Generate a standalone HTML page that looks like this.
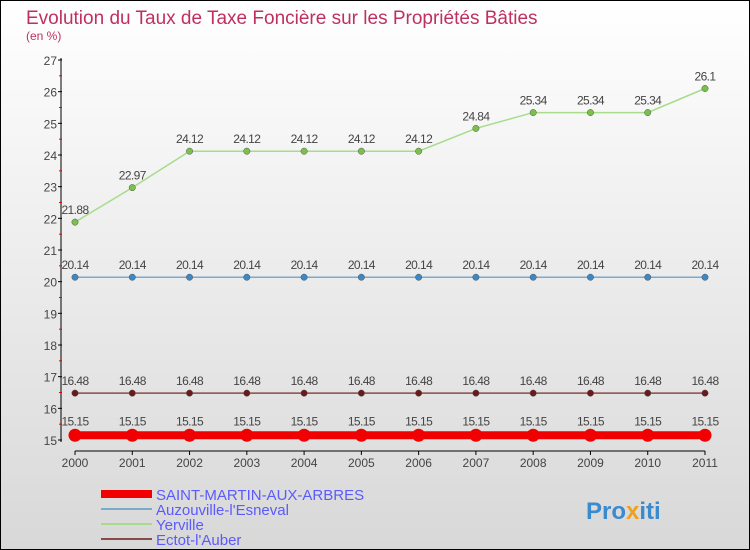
<!DOCTYPE html>
<html><head><meta charset="utf-8"><style>
body{margin:0}
#c{width:748px;height:548px;border:1px solid #000;background:linear-gradient(#fff,#d8d8d8);position:relative;font-family:"Liberation Sans",sans-serif}
</style></head><body>
<div id="c">
<svg id="s" width="748" height="548" xmlns="http://www.w3.org/2000/svg" style="position:absolute;left:0;top:0">
<text x="25" y="23" font-size="19" fill="#c0305e">Evolution du Taux de Taxe Foncière sur les Propriétés Bâties</text>
<text x="25" y="39" font-size="12" fill="#c0305e">(en %)</text>
<g id="g"></g>
<text x="585" y="518" font-size="24" font-weight="bold" fill="#3a8ad0">Pro<tspan fill="#f0a020">x</tspan>iti</text>
</svg>
</div>
<script>
const years=[2000,2001,2002,2003,2004,2005,2006,2007,2008,2009,2010,2011];
const yTicks=[15,16,17,18,19,20,21,22,23,24,25,26,27];
const names=["SAINT-MARTIN-AUX-ARBRES","Auzouville-l'Esneval","Yerville","Ectot-l'Auber"];
const sSaint=[15.15,15.15,15.15,15.15,15.15,15.15,15.15,15.15,15.15,15.15,15.15,15.15];
const sAuzou=[20.14,20.14,20.14,20.14,20.14,20.14,20.14,20.14,20.14,20.14,20.14,20.14];
const sYerv=[21.88,22.97,24.12,24.12,24.12,24.12,24.12,24.84,25.34,25.34,25.34,26.1];
const sEctot=[16.48,16.48,16.48,16.48,16.48,16.48,16.48,16.48,16.48,16.48,16.48,16.48];
const NS="http://www.w3.org/2000/svg",g=document.getElementById('g');
const X=i=>74+i*(704-74)/(years.length-1);
const Y=v=>439-(v-15)*(439-59)/12;
function mk(t,a,txt){const e=document.createElementNS(NS,t);for(const k in a)e.setAttribute(k,a[k]);if(txt!==undefined)e.textContent=txt;g.appendChild(e);return e;}
let e=mk('line',{x1:60,y1:Y(27)-2,x2:60,y2:Y(15)+2,stroke:'#000'});


e=mk('line',{x1:X(0),y1:450,x2:X(11),y2:450,stroke:'#000'});


yTicks.forEach(v=>{mk('line',{x1:57,y1:Y(v),x2:61,y2:Y(v),stroke:'#000'});
 if(v<27)mk('line',{x1:58,y1:Y(v+0.5),x2:61,y2:Y(v+0.5),stroke:'#e00'});
 e=mk('text',{x:56,y:Y(v)+5,'font-size':12,'text-anchor':'end',fill:'#444'},v);
 
 });
years.forEach((y,i)=>{mk('line',{x1:X(i),y1:450,x2:X(i),y2:454,stroke:'#000'});
 e=mk('text',{x:X(i),y:466,'font-size':12,'text-anchor':'middle',fill:'#444'},y);
 
 });
function series(data,col,dot,lw,r,name){
 e=mk('polyline',{points:data.map((v,i)=>X(i)+','+Y(v)).join(' '),fill:'none',stroke:col,'stroke-width':lw});
 
 
 data.forEach((v,i)=>{e=mk('circle',{cx:X(i),cy:Y(v),r:r,fill:dot,stroke:r>4?'none':'#555','stroke-width':0.5});
  
  
  e=mk('text',{x:X(i),y:Y(v)-(r>4?10:8),'font-size':12,'text-anchor':'middle',fill:'#444','letter-spacing':'-0.6'},v);
  
  });
}
series(sYerv,'#a6dc8a','#7ac04a',1.5,3.2,'yerville');
series(sAuzou,'#7aaacc','#3a88c8',1.5,3.2,'auzouville');
series(sEctot,'#8a4a4a','#6a1a1a',1.5,3.2,'ectot');
series(sSaint,'#f00000','#f00000',8,6.5,'saint-martin');
const lc=['#f00000','#7aaacc','#a6dc8a','#8a4a4a'],lw=[8,2,2,2];
names.forEach((n,i)=>{const y=493+i*15;
 e=mk('line',{x1:100,y1:y,x2:151,y2:y,stroke:lc[i],'stroke-width':lw[i]});
 
 
 e=mk('text',{x:155,y:y+6,'font-size':15,fill:'#5a5aff'},n);
 
 });
</script>
</body></html>
